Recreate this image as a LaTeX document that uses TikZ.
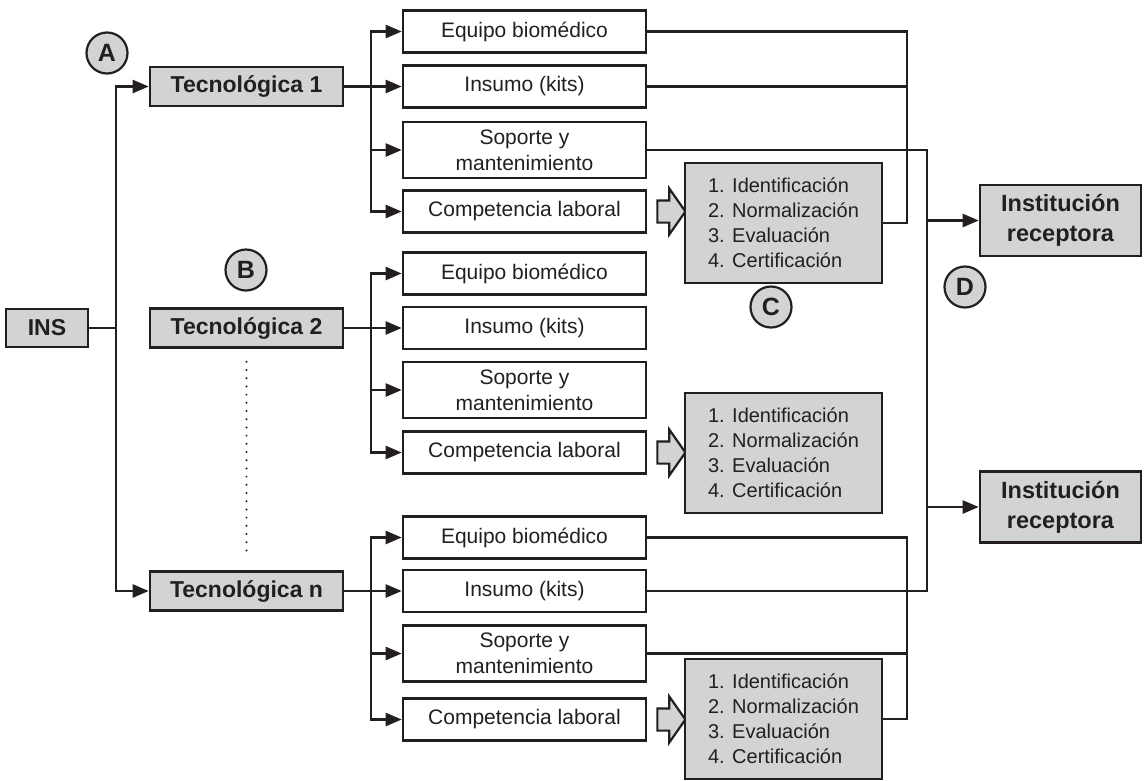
\documentclass[tikz,border=0pt]{standalone}
\usepackage{fontspec}
\setmainfont{Liberation Sans}
\usepackage{xcolor}
\usepackage{tikz}
\usetikzlibrary{arrows.meta}
\usetikzlibrary{calc}
\usetikzlibrary{shapes}
\definecolor{ink}{HTML}{231F20}
\definecolor{boxgray}{HTML}{D1D3D4}
\tikzset{>={Triangle[length=16pt,width=13pt]}}

\begin{document}
\begin{tikzpicture}[x=1pt,y=-1pt,
every node/.style={draw=none,align=center,text=ink,inner sep=0pt},
tecbox/.style={draw=ink,fill=boxgray,line width=2.6pt,minimum width=193pt,minimum height=39pt,font=\fontsize{23}{28}\selectfont\bfseries},
subbox/.style={draw=ink,fill=white,line width=2.6pt,minimum width=243pt,minimum height=42pt,font=\fontsize{21}{26}\selectfont},
listbox/.style={draw=ink,fill=boxgray,line width=2.6pt,minimum width=197pt,minimum height=120pt,align=left,font=\fontsize{20}{25}\selectfont},
recbox/.style={draw=ink,fill=boxgray,line width=2.6pt,minimum width=161pt,minimum height=71pt,font=\fontsize{23.5}{30}\selectfont\bfseries},
lettr/.style={circle,draw=ink,fill=boxgray,line width=2.2pt,minimum size=41pt,font=\fontsize{25}{25}\selectfont\bfseries},
blkarr/.style={single arrow,draw=ink,fill=boxgray,line width=2.2pt,inner xsep=0pt,inner ysep=10pt,minimum height=28pt,single arrow head extend=12pt,single arrow tip angle=110},
wire/.style={draw=ink,line width=2.4pt},
arr/.style={wire,->}]

\useasboundingbox (0,0) rectangle (1148,780);

\draw node[tecbox,minimum width=82pt,minimum height=38pt] at (47,328) (ins) {INS};
\draw node[tecbox] at (246.5,86.5) (tca) {Tecnológica 1};
\draw node[tecbox] at (246.5,328) (tcb) {Tecnológica 2};
\draw node[tecbox] at (246.5,591) (tcn) {Tecnológica n};

\draw node[lettr] at (107,53) (la) {A};
\draw node[lettr] at (246,270) (lb) {B};
\draw node[lettr] at (771,307) (lc) {C};
\draw node[lettr] at (965,287) (ld) {D};

\draw node[subbox] at (524.5,31.5) (eqa) {Equipo biomédico};
\draw node[subbox] at (524.5,86.5) (kita) {Insumo (kits)};
\draw node[subbox,minimum height=56pt] at (524.5,150) (spa) {Soporte y\\mantenimiento};
\draw node[subbox] at (524.5,211.5) (cpa) {Competencia laboral};

\draw node[subbox] at (524.5,273.5) (eqb) {Equipo biomédico};
\draw node[subbox] at (524.5,328) (kitb) {Insumo (kits)};
\draw node[subbox,minimum height=56pt] at (524.5,390) (spb) {Soporte y\\mantenimiento};
\draw node[subbox] at (524.5,452.5) (cpb) {Competencia laboral};

\draw node[subbox] at (524.5,537.5) (eqn) {Equipo biomédico};
\draw node[subbox] at (524.5,591) (kitn) {Insumo (kits)};
\draw node[subbox,minimum height=56pt] at (524.5,653.5) (spn) {Soporte y\\mantenimiento};
\draw node[subbox] at (524.5,719.5) (cpn) {Competencia laboral};

\draw node[blkarr] at (667.5,211.5) (bla) {};
\draw node[blkarr] at (667.5,452.5) (blb) {};
\draw node[blkarr] at (667.5,719.5) (bln) {};

\draw node[listbox] at (783.5,223) (lsa) {1. Identificación\\2. Normalización\\3. Evaluación\\4. Certificación};
\draw node[listbox] at (783.5,453) (lsb) {1. Identificación\\2. Normalización\\3. Evaluación\\4. Certificación};
\draw node[listbox] at (783.5,719) (lsn) {1. Identificación\\2. Normalización\\3. Evaluación\\4. Certificación};

\draw node[recbox] at (1060.5,220.5) (rca) {Institución\\receptora};
\draw node[recbox] at (1060.5,507) (rcb) {Institución\\receptora};

\coordinate (trunk) at (116,0);
\coordinate (fork) at (371,0);
\coordinate (busa) at (907,0);
\coordinate (busb) at (927,0);

\draw[wire] (ins.east) -- (ins.east -| trunk);
\draw[arr] (tcn.west -| trunk) |- (tca.west);
\draw[arr] (tca.west -| trunk) |- (tcn.west);
\draw[ink,line width=2.2pt,line cap=round,dash pattern=on 0pt off 8.2pt] ($(tcb.south)+(0,13)$) -- ($(tcn.north)+(0,-12)$);

\draw[arr] (tca.east) -- (kita.west);
\draw[arr] (cpa.west -| fork) |- (eqa.west);
\draw[arr] (eqa.west -| fork) |- (cpa.west);
\draw[arr] (spa.west -| fork) -- (spa.west);

\draw[arr] (tcb.east) -- (kitb.west);
\draw[arr] (cpb.west -| fork) |- (eqb.west);
\draw[arr] (eqb.west -| fork) |- (cpb.west);
\draw[arr] (spb.west -| fork) -- (spb.west);

\draw[arr] (tcn.east) -- (kitn.west);
\draw[arr] (cpn.west -| fork) |- (eqn.west);
\draw[arr] (eqn.west -| fork) |- (cpn.west);
\draw[arr] (spn.west -| fork) -- (spn.west);

\draw[wire] (eqa.east) -- (eqa.east -| busa) |- (lsa.east);
\draw[wire] (kita.east) -- (kita.east -| busa);
\draw[wire] (spa.east) -- (spa.east -| busb) |- (kitn.east);
\draw[wire] (eqn.east) -- (eqn.east -| busa) |- (lsn.east);
\draw[wire] (spn.east) -- (spn.east -| busa);

\draw[arr] (rca.west -| busb) -- (rca.west);
\draw[arr] (rcb.west -| busb) -- (rcb.west);

\end{tikzpicture}
\end{document}
